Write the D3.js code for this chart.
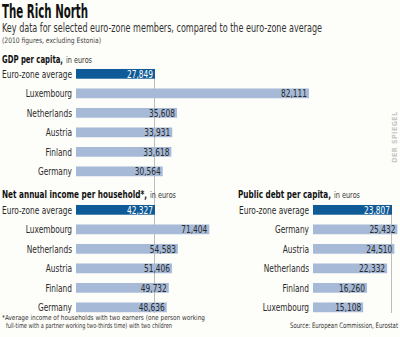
<!DOCTYPE html>
<html>
<head>
<meta charset="utf-8">
<script src="https://cdn.jsdelivr.net/npm/d3@7/dist/d3.min.js"></script>
<style>
  body { margin: 0; background: #fdfdf9; }
  svg { display: block; font-family: "Liberation Sans Narrow", "DejaVu Sans Condensed", "Arial Narrow", sans-serif; }
</style>
</head>
<body>
<script>
// data
const gdpNames = ["Euro-zone average", "Luxembourg", "Netherlands", "Austria", "Finland", "Germany"];
const gdpValues = [27849, 82111, 35608, 33931, 33618, 30564];

const incomeNames = ["Euro-zone average", "Luxembourg", "Netherlands", "Austria", "Finland", "Germany"];
const incomeValues = [42327, 71404, 54583, 51406, 49732, 48636];

const debtNames = ["Euro-zone average", "Germany", "Austria", "Netherlands", "Finland", "Luxembourg"];
const debtValues = [23807, 25432, 24510, 22332, 16260, 15108];

const W = 400, H = 337;
const dark = "#0f5b97", light = "#a6bad8", ink = "#2a2a2a";

const svg = d3.select("body").append("svg")
  .attr("width", W).attr("height", H);

svg.append("rect").attr("width", W).attr("height", H).attr("fill", "#fdfdf9");

// squeeze a text to a given width (the original uses a very narrow face)
function fit(sel, w) {
  sel.attr("textLength", w).attr("lengthAdjust", "spacingAndGlyphs");
  return sel;
}
// squeeze every text of a selection by the same factor
function squeeze(sel, k) {
  sel.each(function() {
    this.setAttribute("textLength", this.getComputedTextLength() * k);
    this.setAttribute("lengthAdjust", "spacingAndGlyphs");
  });
}
function widthOf(str, size, weight) {
  const t = svg.append("text").attr("font-size", size).attr("font-weight", weight || "normal").text(str);
  const w = t.node().getComputedTextLength();
  t.remove();
  return w;
}
const labelK = 70 / widthOf("Euro-zone average", 10.5);
const valueK = 26 / widthOf("82,111", 11);

// headings
fit(svg.append("text").attr("x", 2).attr("y", 18)
  .attr("font-size", 19).attr("font-weight", "bold").attr("fill", "#111")
  .text("The Rich North"), 86);
fit(svg.append("text").attr("x", 2).attr("y", 32)
  .attr("font-size", 11.5).attr("fill", "#333")
  .text("Key data for selected euro-zone members, compared to the euro-zone average"), 320);
fit(svg.append("text").attr("x", 2).attr("y", 43)
  .attr("font-size", 7.5).attr("fill", "#444")
  .text("(2010 figures, excluding Estonia)"), 99);

// one horizontal bar panel; the average bar ends on the reference line
function panel(names, values, o) {
  const x = d3.scaleLinear().domain([0, values[0]]).range([o.x0, o.x0 + 79]);
  const y = d3.scaleBand().domain(names)
    .range([o.y0, o.y0 + names.length * 19.5])
    .paddingInner(0.5).paddingOuter(0.25);
  const g = svg.append("g");

  fit(g.append("text").attr("x", o.tx).attr("y", o.ty).attr("fill", "#111")
    .attr("font-size", 10.5).attr("font-weight", "bold").text(o.title), o.tw);
  fit(g.append("text").attr("x", o.tx + o.tw + 3).attr("y", o.ty).attr("fill", "#333")
    .attr("font-size", 8).text("in euros"), 26);

  g.append("line")
    .attr("x1", x(values[0]) - 0.5).attr("x2", x(values[0]) - 0.5)
    .attr("y1", y(names[0])).attr("y2", o.lineEnd)
    .attr("stroke", "#bdbdbd").attr("stroke-width", 1);

  const rows = g.selectAll("g.row").data(names.map((n, i) => ({ n, v: values[i], i })))
    .enter().append("g").attr("class", "row");

  rows.append("rect")
    .attr("x", x(0))
    .attr("y", d => y(d.n))
    .attr("width", d => x(d.v) - x(0))
    .attr("height", y.bandwidth())
    .attr("fill", d => d.i === 0 ? dark : light);

  squeeze(rows.append("text")
    .attr("x", o.x0 - 4)
    .attr("y", d => y(d.n) + y.bandwidth() / 2)
    .attr("dy", "0.36em")
    .attr("text-anchor", "end")
    .attr("font-size", 10.5)
    .attr("fill", ink)
    .text(d => d.n), labelK);

  squeeze(rows.append("text")
    .attr("x", d => x(d.v) - 2)
    .attr("y", d => y(d.n) + y.bandwidth() / 2)
    .attr("dy", "0.37em")
    .attr("text-anchor", "end")
    .attr("font-size", 11)
    .attr("fill", d => d.i === 0 ? "#fff" : ink)
    .text(d => d3.format(",")(d.v)), valueK);
}

panel(gdpNames, gdpValues, { x0: 76, y0: 64.1, tx: 2, ty: 63, tw: 61, title: "GDP per capita,", lineEnd: 313 });
panel(incomeNames, incomeValues, { x0: 76, y0: 200.1, tx: 2, ty: 198, tw: 145, title: "Net annual income per household*,", lineEnd: 313 });
panel(debtNames, debtValues, { x0: 313, y0: 200.1, tx: 238, ty: 198, tw: 93, title: "Public debt per capita,", lineEnd: 313 });

// footnote and source
fit(svg.append("text").attr("x", 2).attr("y", 320)
  .attr("font-size", 7).attr("fill", "#333")
  .text("*Average income of households with two earners (one person working"), 203);
fit(svg.append("text").attr("x", 6).attr("y", 327.5)
  .attr("font-size", 7).attr("fill", "#333")
  .text("full-time with a partner working two-thirds time) with two children"), 166);

fit(svg.append("text").attr("x", 398).attr("y", 328)
  .attr("text-anchor", "end").attr("font-size", 7.5).attr("fill", "#333")
  .text("Source: European Commission, Eurostat"), 108);

svg.append("text")
  .attr("transform", "translate(397,137) rotate(-90)")
  .attr("text-anchor", "middle").attr("font-size", 7).attr("font-weight", "bold")
  .attr("fill", "#c8c8c8").attr("letter-spacing", 0.5)
  .text("DER SPIEGEL");
</script>
</body>
</html>
